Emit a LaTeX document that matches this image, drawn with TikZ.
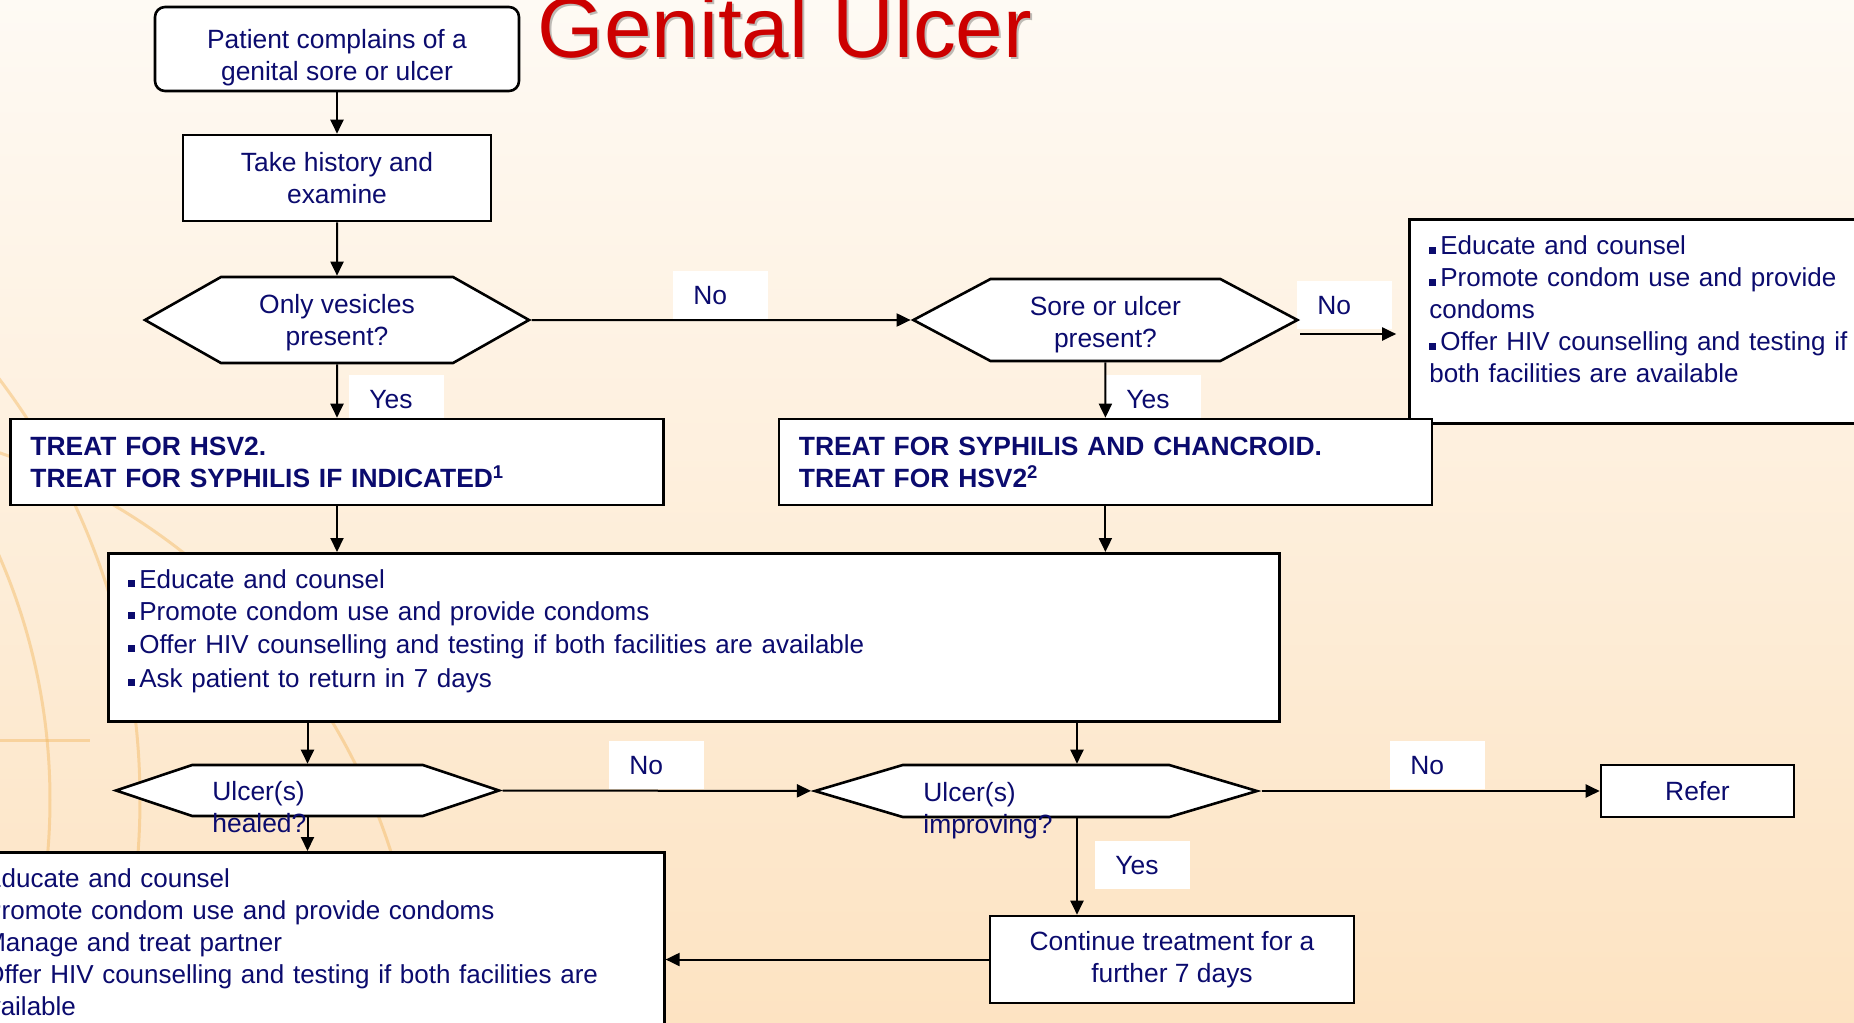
\documentclass[tikz,border=0pt]{standalone}
\usepackage{fontspec}
\setmainfont{Liberation Sans}
\usetikzlibrary{arrows.meta,positioning,shapes.symbols}
\definecolor{dnavy}{HTML}{0B0B6E}
\definecolor{tred}{HTML}{CC0000}
\definecolor{bgtop}{HTML}{FEFAF4}
\definecolor{bgbot}{HTML}{FDE3C2}
\definecolor{globe}{HTML}{F3B860}
\newcommand{\flowfont}{\fontsize{13.2}{16}\selectfont}
\newcommand{\listfont}{\fontsize{13}{16}\selectfont}
\newcommand{\sqb}{\rule[0.5pt]{3.5pt}{3.5pt}\hspace{2pt}}

\begin{document}
\begin{tikzpicture}[
  x=0.5pt, y=-0.5pt,
  stepbox/.style={draw, fill=white, line width=1.3pt, text=dnavy, font=\flowfont,
                  align=center, inner sep=0pt},
  listbox/.style={stepbox, font=\listfont, align=left, inner xsep=10pt, inner ysep=8pt,
                  anchor=north west},
  hexa/.style={stepbox, shape=signal, signal to=west and east, signal pointer angle=#1},
  yn/.style={fill=white, text=dnavy, font=\flowfont, text width=27.5pt, align=left,
             inner xsep=10pt, inner ysep=0pt, minimum height=24pt, anchor=north west},
  qtext/.style={text=dnavy, font=\flowfont, align=left, inner sep=0pt, anchor=west},
  ar/.style={-{Triangle[length=7pt,width=6.5pt]}, line width=1pt},
]
\useasboundingbox (0,0) rectangle (1854,1023);
\clip (0,0) rectangle (1854,1023);

% Fondo
\shade[top color=bgtop, bottom color=bgbot] (0,0) rectangle (1854,1023);
\begin{scope}[draw=globe, line width=1.5pt, opacity=0.45]
  \draw (-560,800) circle[radius=610];
  \draw (-560,800) circle[radius=700];
  \draw (-200,1040) circle[radius=620];
  \draw (0,740) -- (90,740);
\end{scope}

% Titulo
\node[font=\fontsize{42.8}{43}\selectfont, text=black, opacity=0.25, anchor=base west,
      inner sep=0pt] (titshadow) at (539,59) {Genital Ulcer};
\node[font=\fontsize{42.8}{43}\selectfont, text=tred, anchor=base west,
      inner sep=0pt] (title) at (537,57) {Genital Ulcer};

% Etiquetas Si / No
\node[yn] (lno1) at (673,271) {No};
\node[yn] (lyes1) at (349,375) {Yes};
\node[yn] (lno2) at (1297,281) {No};
\node[yn] (lyes2) at (1106,375) {Yes};
\node[yn] (lno3) at (609,741) {No};
\node[yn] (lno4) at (1390,741) {No};
\node[yn] (lyes3) at (1095,841) {Yes};

% Columna izquierda
\node[stepbox, rounded corners=5pt, minimum width=182pt, minimum height=42pt] (start) at (337,49)
  {\rule{0pt}{18.6pt}Patient complains of a\\genital sore or ulcer};
\node[stepbox, minimum width=154pt, minimum height=43pt, below=20.7pt of start] (take)
  {Take history and\\examine};
\node[hexa=59, minimum width=192pt, minimum height=43pt, below=26.7pt of take] (vesic)
  {\rule{0pt}{12pt}Only vesicles\\present?};
\node[hexa=56, minimum width=192pt, minimum height=41pt, right=189.5pt of vesic] (sore)
  {\rule{0pt}{14.4pt}Sore or ulcer\\present?};

% Consejo (derecha)
\node[listbox, text width=230pt, minimum height=102pt] (adv) at (1408,218)
  {\sqb Educate and counsel\\\sqb Promote condom use and provide\\condoms\\
   \sqb Offer HIV counselling and testing if\\both facilities are available\rule[-11.9pt]{0pt}{0pt}};

% Tratamientos
\node[stepbox, font=\flowfont\bfseries, align=left, text width=306.5pt, minimum width=326.5pt,
      minimum height=43pt, below=26.7pt of vesic] (treat1)
  {TREAT FOR HSV2.\\TREAT FOR SYPHILIS IF INDICATED\textsuperscript{1}};
\node[stepbox, font=\flowfont\bfseries, align=left, text width=306.5pt, minimum width=326.5pt,
      minimum height=43pt, below=27.7pt of sore] (treat2)
  {TREAT FOR SYPHILIS AND CHANCROID.\\TREAT FOR HSV2\textsuperscript{2}};

\node[listbox, text width=565.5pt, minimum width=585.5pt, minimum height=84pt] (mid) at (107,552)
  {\sqb Educate and counsel\\\sqb Promote condom use and provide condoms\\[0.5pt]
   \sqb Offer HIV counselling and testing if both facilities are available\\[1pt]
   \sqb Ask patient to return in 7 days\rule[-9pt]{0pt}{0pt}};

% Seguimiento
\node[hexa=37, minimum width=191.5pt, minimum height=25.5pt] (healed) at (307.5,790.5) {};
\node[hexa=33, minimum width=221pt, minimum height=26pt] (improv) at (1036,791) {};
\node[qtext] (healedq) at (212,807) {Ulcer(s)\\healed?};
\node[qtext] (improvq) at (923,811) {Ulcer(s)\\improving?};
\node[stepbox, minimum width=96.5pt, minimum height=26pt] (refer) at (1697.5,791) {Refer};
\node[stepbox, minimum width=182pt, minimum height=43.5pt] (cont) at (1172,959.5)
  {Continue treatment for a\\further 7 days};
\node[listbox, text width=335.5pt] (care) at (-48,851)
  {\sqb Educate and counsel\\\sqb Promote condom use and provide condoms\\
   \sqb Manage and treat partner\\\sqb Offer HIV counselling and testing if both facilities are\\
   available\rule[-12pt]{0pt}{0pt}};

% Conectores
\coordinate (noend) at ([xshift=48pt,yshift=-7pt]sore.east);
\coordinate (imx) at (1077,791);
\draw[ar] (start) -- (take);
\draw[ar] (take) -- (vesic);
\draw[ar] (vesic) -- (sore);
\draw[ar] (vesic) -- (treat1);
\draw[ar] (sore) -- (treat2);
\draw[ar] ([yshift=-7pt]sore.east) -- (noend);
\draw[ar] (treat1) -- (treat1 |- mid.north);
\draw[ar] (treat2) -- (treat2 |- mid.north);
\draw[ar] (mid.south -| healed) -- (healed);
\draw[ar] (mid.south -| imx) -- (improv.north -| imx);
\draw[ar] (healed) -- (improv);
\draw[ar] (improv) -- (refer);
\draw[ar] (improv.south -| imx) -- (cont.north -| imx);
\draw[ar] (healed) -- (healed |- care.north);
\draw[ar] (cont) -- (cont -| care.east);
\end{tikzpicture}
\end{document}
